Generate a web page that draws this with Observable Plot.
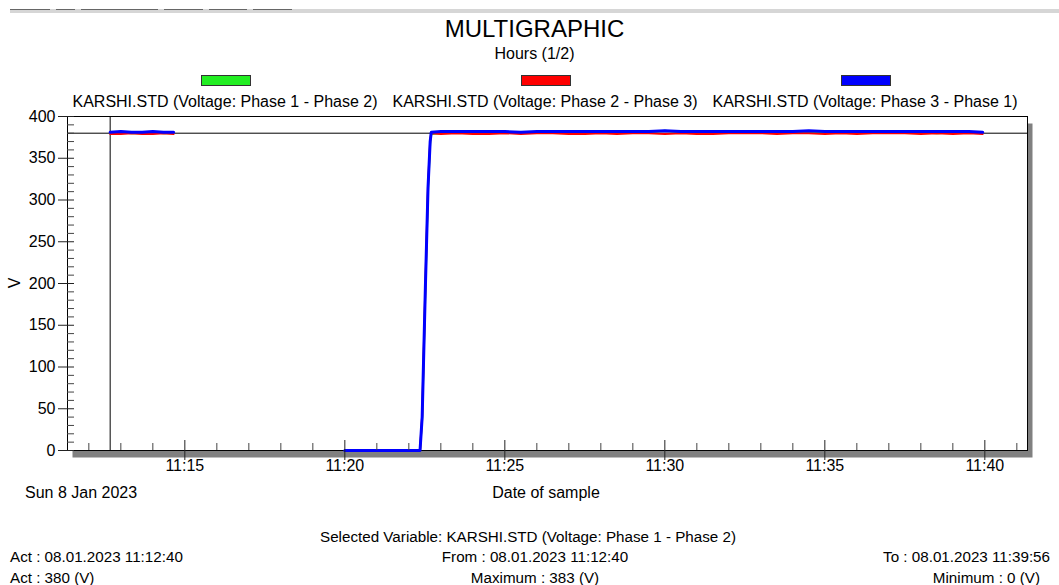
<!DOCTYPE html>
<html>
<head>
<meta charset="utf-8">
<script src="https://cdn.jsdelivr.net/npm/d3@7"></script>
<script src="https://cdn.jsdelivr.net/npm/@observablehq/plot@0.6"></script>
<style>
  html, body { margin: 0; padding: 0; background: #fff; }
  body { width: 1059px; height: 585px; position: relative; overflow: hidden;
         font-family: "Liberation Sans", Arial, sans-serif; color: #000; }
  .t { position: absolute; white-space: nowrap; line-height: 1; }
  .c { text-align: center; }
  #bar { position: absolute; left: 10px; top: 9px; width: 1049px; height: 4px; background: #d6d6d6; }
  .seg { position: absolute; top: 9px; height: 1px; background: #666; }
  .sw { position: absolute; top: 75px; width: 48px; height: 9px; border: 1px solid #333; }
  #plot { position: absolute; left: 0; top: 100px; }
</style>
</head>
<body>
<div id="bar"></div>
<div id="segs"></div>
<div class="t c" style="left:0;width:1069px;top:17px;font-size:24px;">MULTIGRAPHIC</div>
<div class="t c" style="left:0;width:1069px;top:46px;font-size:16px;">Hours (1/2)</div>
<div id="legend"></div>
<div id="plot"></div>
<div class="t" style="left:15px;top:283px;font-size:16px;transform:translate(-50%,-50%) rotate(-90deg);">V</div>
<div class="t" style="left:25px;top:485px;font-size:16px;">Sun 8 Jan 2023</div>
<div class="t c" style="left:446px;width:200px;top:485px;font-size:16px;">Date of sample</div>
<div id="footer"></div>
<script>
// ---------- data ----------
const chartTitle = "MULTIGRAPHIC";
const seriesNames = [
  "KARSHI.STD (Voltage: Phase 1 - Phase 2)",
  "KARSHI.STD (Voltage: Phase 2 - Phase 3)",
  "KARSHI.STD (Voltage: Phase 3 - Phase 1)"
];
const seriesColors = ["#22ee22", "#ff0000", "#0000ff"];

const sampleTimes = [
  "11:12:40","11:13:00","11:13:20","11:13:40","11:14:00","11:14:20","11:14:39",
  "11:17:00",
  "11:20:00","11:21:00","11:22:00","11:22:21","11:22:25","11:22:31","11:22:36","11:22:40","11:22:42",
  "11:23:00","11:23:30","11:24:00","11:24:30","11:25:00","11:25:30","11:26:00","11:26:30",
  "11:27:00","11:27:30","11:28:00","11:28:30","11:29:00","11:29:30","11:30:00","11:30:30",
  "11:31:00","11:31:30","11:32:00","11:32:30","11:33:00","11:33:30","11:34:00","11:34:30",
  "11:35:00","11:35:30","11:36:00","11:36:30","11:37:00","11:37:30","11:38:00","11:38:30",
  "11:39:00","11:39:30","11:39:56"
];
const phase12 = [
  380,381,380,380,381,380,380,
  null,
  0,0,0,0,38,192,312,368,379,
  380,381,380,381,381,380,381,381,380,381,381,380,381,381,383,381,
  380,381,381,381,381,380,381,381,381,381,380,381,381,381,381,380,
  381,381,380
];
const phase23 = [
  379,379,380,379,379,380,379,
  null,
  0,0,0,0,42,198,318,371,380,
  379,380,379,379,380,379,380,380,379,379,380,379,380,380,379,380,
  379,379,380,380,380,379,380,380,379,380,379,380,380,380,379,380,
  379,380,379
];
const phase31 = [
  381,382,381,381,382,381,381,
  null,
  0,0,0,0,40,195,315,370,381,
  382,382,382,382,382,381,382,382,382,382,382,382,382,382,383,382,
  382,382,382,382,382,382,382,383,382,382,382,382,382,382,382,382,
  382,382,381
];
const cursorTime = "11:12:40";
const cursorValue = 380;
const xDomain = ["11:11:20", "11:41:20"];
const xMajorTicks = ["11:15","11:20","11:25","11:30","11:35","11:40"];
const xMinorTicks = ["11:12","11:13","11:14","11:16","11:17","11:18","11:19","11:21","11:22","11:23","11:24",
  "11:26","11:27","11:28","11:29","11:31","11:32","11:33","11:34","11:36","11:37","11:38","11:39","11:41"];
const yMajorTicks = [0,50,100,150,200,250,300,350,400];
const yMinorTicks = [10,20,30,40,60,70,80,90,110,120,130,140,160,170,180,190,210,220,230,240,
  260,270,280,290,310,320,330,340,360,370,380,390];
const footerLines = [
  ["Selected Variable: KARSHI.STD (Voltage: Phase 1 - Phase 2)"],
  ["Act : 08.01.2023 11:12:40", "From : 08.01.2023 11:12:40", "To : 08.01.2023 11:39:56"],
  ["Act : 380 (V)", "Maximum : 383 (V)", "Minimum : 0 (V)"]
];

// ---------- helpers ----------
function t(s) {
  const p = s.split(":").map(Number);
  return new Date(2023, 0, 8, p[0], p[1], p[2] || 0);
}
const fmt = d => `${d.getHours()}:${String(d.getMinutes()).padStart(2, "0")}`;

// toolbar decoration
const segs = [[10,50],[56,75],[81,158],[164,203],[209,247],[253,292]];
document.getElementById("segs").innerHTML = segs.map(([a,b]) =>
  `<div class="seg" style="left:${a}px;width:${b-a}px"></div>`).join("");

// legend
const leg = document.getElementById("legend");
seriesNames.forEach((name, i) => {
  const cx = 225 + i * 320;
  leg.insertAdjacentHTML("beforeend",
    `<div class="sw" style="left:${cx-24}px;background:${seriesColors[i]}"></div>` +
    `<div class="t c" style="left:${cx-160}px;width:320px;top:94px;font-size:16px;">${name}</div>`);
});

// footer
const foot = document.getElementById("footer");
foot.insertAdjacentHTML("beforeend",
  `<div class="t c" style="left:278px;width:500px;top:529px;font-size:15.2px;">${footerLines[0][0]}</div>`);
[[549, 1], [570, 2]].forEach(([top, r]) => {
  const row = footerLines[r];
  foot.insertAdjacentHTML("beforeend",
    `<div class="t" style="left:10px;top:${top}px;font-size:15.2px;">${row[0]}</div>` +
    `<div class="t c" style="left:335px;width:400px;top:${top}px;font-size:15.2px;">${row[1]}</div>` +
    `<div class="t" style="right:${r === 1 ? 9 : 19}px;top:${top}px;font-size:15.2px;">${row[2]}</div>`);
});

// data table
const rows = [];
[phase12, phase23, phase31].forEach((vals, si) => {
  sampleTimes.forEach((s, i) => rows.push({series: si, time: t(s), value: vals[i]}));
});

const chart = Plot.plot({
  width: 1059,
  height: 400,
  marginTop: 16,
  marginBottom: 50,
  marginLeft: 67,
  marginRight: 32,
  style: {fontFamily: '"Liberation Sans", Arial, sans-serif', fontSize: "16px", color: "black", background: "transparent", overflow: "visible"},
  x: {type: "time", domain: xDomain.map(t), label: null},
  y: {domain: [0, 400], label: null},
  marks: [
    Plot.frame({fill: "#808080", stroke: null, dx: 5, dy: 7}),
    Plot.frame({fill: "white", stroke: "black"}),
    Plot.ruleY([0], {stroke: "black"}),
    Plot.ruleX([t(cursorTime)], {stroke: "black", strokeWidth: 1}),
    Plot.ruleY([cursorValue], {stroke: "black", strokeWidth: 1}),
    Plot.line(rows.filter(d => d.series === 0), {x: "time", y: "value", stroke: seriesColors[0], strokeWidth: 2}),
    Plot.line(rows.filter(d => d.series === 1), {x: "time", y: "value", stroke: seriesColors[1], strokeWidth: 2}),
    Plot.line(rows.filter(d => d.series === 2), {x: "time", y: "value", stroke: seriesColors[2], strokeWidth: 3}),
    Plot.axisY({ticks: yMinorTicks, tickSize: 7, dx: 7, tickFormat: () => "", stroke: "#444", label: null}),
    Plot.axisY({ticks: yMajorTicks, tickSize: 16, dx: 7, tickFormat: () => "", stroke: "#222", label: null}),
    Plot.axisY({ticks: yMajorTicks, tickSize: 0, tickPadding: 12, label: null}),
    Plot.axisX({ticks: xMinorTicks.map(t), tickSize: 7, dy: -7, tickFormat: () => "", stroke: "#444", label: null}),
    Plot.axisX({ticks: xMajorTicks.map(t), tickSize: 20, dy: -10, tickFormat: () => "", stroke: "#222", label: null}),
    Plot.axisX({ticks: xMajorTicks.map(t), tickSize: 0, tickPadding: 9, tickFormat: fmt, label: null})
  ]
});
document.getElementById("plot").appendChild(chart);
</script>
</body>
</html>
